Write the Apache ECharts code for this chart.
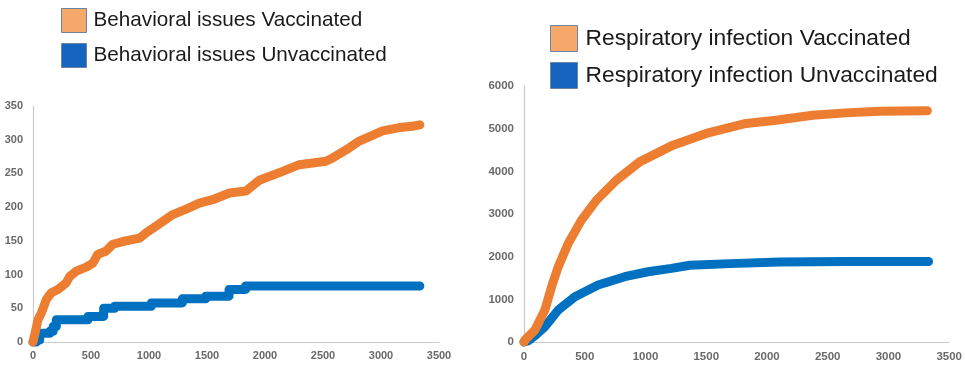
<!DOCTYPE html>
<html>
<head>
<meta charset="utf-8">
<script src="https://cdn.jsdelivr.net/npm/echarts@6/dist/echarts.min.js"></script>
<style>
html,body{margin:0;padding:0;background:#fff;}
#chart{width:965px;height:365px;}
</style>
</head>
<body>
<div id="chart"></div>
<script>
// ---- Data ----
const behavVaxDays   = [0, 20, 43, 72, 115, 158, 215, 287, 316, 373, 459, 516, 559, 631, 688, 775, 918, 976, 1062, 1205, 1320, 1434, 1549, 1693, 1836, 1951, 2152, 2296, 2526, 2583, 2727, 2813, 3014, 3157, 3272, 3335];
const behavVaxCount  = [0, 15, 33, 43, 63, 73, 78, 88, 97, 105, 111, 117, 130, 135, 145, 149, 154, 162, 172, 189, 197, 206, 211, 221, 224, 240, 253, 263, 268, 273, 288, 298, 313, 318, 320, 322];
const behavUnvDays   = [0, 29, 58, 145, 174, 201, 474, 609, 704, 1020, 1287, 1489, 1690, 1833, 3335];
const behavUnvCount  = [0, 3, 13, 16, 23, 33, 38, 50, 53, 58, 64, 68, 78, 83, 83];

const respVaxDays    = [0, 8, 90, 172, 227, 282, 364, 473, 597, 761, 952, 1226, 1500, 1828, 2074, 2375, 2649, 2923, 3320];
const respVaxCount   = [0, 47, 281, 749, 1297, 1765, 2311, 2857, 3326, 3794, 4222, 4614, 4888, 5122, 5199, 5316, 5370, 5410, 5420];
const respUnvDays    = [0, 36, 100, 172, 282, 419, 610, 829, 1021, 1213, 1365, 1695, 2107, 2657, 3330];
const respUnvCount   = [0, 30, 170, 359, 749, 1061, 1335, 1530, 1647, 1725, 1798, 1837, 1876, 1884, 1886];

const xTicks = { min: 0, max: 3500, interval: 500 };
const leftYTicks = { min: 0, max: 350, interval: 50 };
const rightYTicks = { min: 0, max: 6000, interval: 1000 };

const names = {
  bVax: 'Behavioral issues Vaccinated',
  bUnv: 'Behavioral issues Unvaccinated',
  rVax: 'Respiratory infection Vaccinated',
  rUnv: 'Respiratory infection Unvaccinated'
};

// ---- Styles ----
const ORANGE = '#ED7D31';
const BLUE = '#0070C0';
const LEG_ORANGE = '#F7A86B';
const LEG_BLUE = '#1565BE';
const LEG_BORDER = '#6E82A6';
const FONT = 'Liberation Sans';
const LABEL_COLOR = '#6a6a6a';

function zip(xs, ys) { return xs.map((x, i) => [x, ys[i]]); }
const plain = v => String(v);

function xAxis(gridIndex, fs, margin) {
  return {
    type: 'value', gridIndex, min: xTicks.min, max: xTicks.max, interval: xTicks.interval,
    axisLine: { show: true, lineStyle: { color: '#C8CCD2', width: 1.2 } },
    axisTick: { show: false }, splitLine: { show: false },
    axisLabel: { color: LABEL_COLOR, fontSize: fs, fontWeight: 'bold', fontFamily: FONT, margin: margin,
                 showMaxLabel: true, showMinLabel: true, formatter: plain }
  };
}
function yAxis(gridIndex, t, fs, margin) {
  return {
    type: 'value', gridIndex, min: t.min, max: t.max, interval: t.interval,
    axisLine: { show: true, lineStyle: { color: '#C8CCD2', width: 1.2 } },
    axisTick: { show: false }, splitLine: { show: false },
    axisLabel: { color: LABEL_COLOR, fontSize: fs, fontWeight: 'bold', fontFamily: FONT, margin: margin, formatter: plain }
  };
}
function lineSeries(name, idx, data, color, step) {
  return {
    name, type: 'line', xAxisIndex: idx, yAxisIndex: idx, data,
    showSymbol: false, symbol: 'none', clip: false, step: step || false,
    lineStyle: { color, width: 9, cap: 'round', join: 'round' },
    itemStyle: { color }, animation: false
  };
}

const chart = echarts.init(document.getElementById('chart'), null, { renderer: 'canvas' });
chart.setOption({
  backgroundColor: '#ffffff',
  animation: false,
  grid: [
    { left: 33, top: 106, width: 406, height: 236 },
    { left: 524, top: 86, width: 426, height: 256 }
  ],
  xAxis: [xAxis(0, 11, 8), xAxis(1, 11.5, 9)],
  yAxis: [yAxis(0, leftYTicks, 11, 10), yAxis(1, rightYTicks, 11.5, 10)],
  legend: [
    {
      orient: 'vertical', left: 61, top: 8, padding: 0, itemGap: 10,
      itemWidth: 25, itemHeight: 24, icon: 'rect',
      textStyle: { fontSize: 20.7, fontFamily: FONT, color: '#1a1a1a', padding: [0, 0, 0, 2] },
      data: [
        { name: names.bVax, itemStyle: { color: LEG_ORANGE, borderColor: LEG_BORDER, borderWidth: 1 } },
        { name: names.bUnv, itemStyle: { color: LEG_BLUE, borderColor: LEG_BORDER, borderWidth: 1 } }
      ]
    },
    {
      orient: 'vertical', left: 550, top: 25, padding: 0, itemGap: 10,
      itemWidth: 27, itemHeight: 26, icon: 'rect',
      textStyle: { fontSize: 22.8, fontFamily: FONT, color: '#1a1a1a', padding: [0, 0, 0, 3] },
      data: [
        { name: names.rVax, itemStyle: { color: LEG_ORANGE, borderColor: LEG_BORDER, borderWidth: 1 } },
        { name: names.rUnv, itemStyle: { color: LEG_BLUE, borderColor: LEG_BORDER, borderWidth: 1 } }
      ]
    }
  ],
  series: [
    lineSeries(names.bUnv, 0, zip(behavUnvDays, behavUnvCount), BLUE, 'end'),
    lineSeries(names.bVax, 0, zip(behavVaxDays, behavVaxCount), ORANGE),
    lineSeries(names.rUnv, 1, zip(respUnvDays, respUnvCount), BLUE),
    lineSeries(names.rVax, 1, zip(respVaxDays, respVaxCount), ORANGE)
  ]
});
</script>
</body>
</html>
